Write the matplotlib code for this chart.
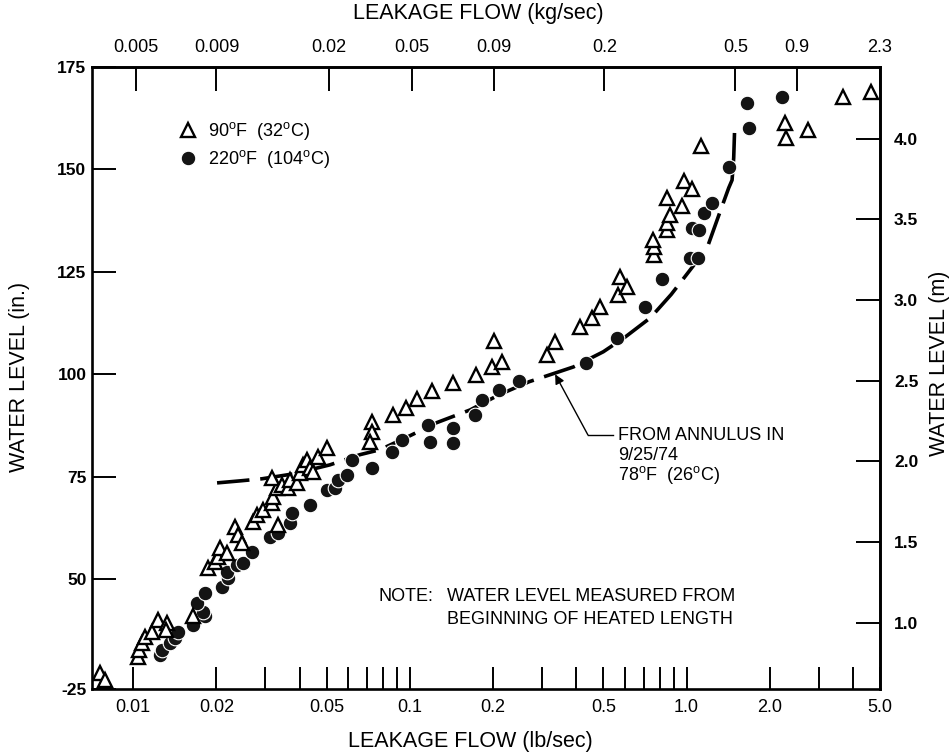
import matplotlib
matplotlib.use("Agg")
import matplotlib.pyplot as plt
from matplotlib.ticker import FixedLocator, NullLocator, NullFormatter

plt.rcParams['font.family'] = ['Liberation Sans', 'DejaVu Sans']
plt.rcParams['mathtext.fontset'] = 'custom'
plt.rcParams['mathtext.rm'] = 'Liberation Sans'

# 90 F (32 C) runs: leakage flow (lb/sec) vs. water level (in.)
flow_90f = [0.0076, 0.0079, 0.0104, 0.0105, 0.0108, 0.0110, 0.0117, 0.0123, 0.0133,
            0.0131, 0.0165, 0.0187, 0.0198, 0.0203, 0.0206, 0.0219, 0.0234, 0.0240,
            0.0247, 0.0271, 0.0281, 0.0295, 0.0318, 0.0334, 0.0320, 0.0331, 0.0318,
            0.0345, 0.0363, 0.0369, 0.0391, 0.0401, 0.0411, 0.0425, 0.0436, 0.0447,
            0.0466, 0.0502, 0.0730, 0.0730, 0.0720, 0.0870, 0.0969, 0.106, 0.120,
            0.143, 0.174, 0.198, 0.215, 0.201, 0.313, 0.335, 0.412, 0.455, 0.487,
            0.565, 0.575, 0.609, 0.762, 0.762, 0.755, 0.849, 0.849, 0.870, 0.849,
            0.962, 0.978, 1.046, 1.127, 2.27, 2.28, 2.75, 3.67, 4.64]
level_90f = [27.0, 25.5, 30.9, 32.8, 34.5, 36.0, 37.0, 40.1, 39.4,
             37.7, 40.9, 52.8, 54.3, 55.5, 57.7, 56.5, 62.8, 60.9,
             58.9, 64.0, 65.7, 67.0, 68.7, 63.3, 70.1, 72.3, 74.8,
             73.0, 72.3, 74.3, 73.5, 76.0, 77.9, 79.1, 77.2, 76.2,
             79.9, 82.1, 88.4, 86.0, 83.5, 90.1, 91.8, 94.0, 96.0,
             97.9, 99.9, 101.8, 103.0, 108.2, 104.8, 107.9, 111.6, 113.8, 116.5,
             119.4, 123.8, 121.3, 129.1, 131.1, 132.8, 135.2, 137.0, 138.9, 143.0,
             141.1, 147.2, 145.2, 155.7, 161.3, 157.7, 159.6, 167.7, 168.9]

# 220 F (104 C) runs
flow_220f = [0.0125, 0.0127, 0.0136, 0.0142, 0.0145, 0.0165, 0.0182, 0.0179, 0.0170,
             0.0182, 0.0210, 0.0220, 0.0219, 0.0238, 0.0250, 0.0269, 0.0313, 0.0334,
             0.0369, 0.0375, 0.0436, 0.0502, 0.0537, 0.0550, 0.0593, 0.0618, 0.0730,
             0.0863, 0.0937, 0.116, 0.118, 0.143, 0.143, 0.172, 0.182, 0.210, 0.248,
             0.433, 0.561, 0.707, 0.815, 1.029, 1.10, 1.046, 1.109, 1.156, 1.236,
             1.423, 1.68, 1.653, 2.21]
level_220f = [31.6, 32.8, 34.5, 35.7, 37.2, 38.9, 40.9, 42.1, 44.3,
              46.7, 48.2, 50.4, 51.8, 53.5, 54.0, 56.7, 60.4, 61.3,
              63.8, 66.2, 68.2, 71.8, 72.3, 74.3, 75.5, 79.1, 77.2,
              81.1, 84.0, 87.7, 83.5, 87.0, 83.3, 90.1, 93.8, 96.2, 98.4,
              102.8, 108.9, 116.5, 123.3, 128.4, 128.4, 135.7, 135.2, 139.4, 141.8,
              150.6, 160.1, 166.2, 167.7]

# Annulus test of 9/25/74, 78 F (26 C)
annulus_flow = [0.0201, 0.0244, 0.0292, 0.0379, 0.0514, 0.0661, 0.078, 0.10, 0.125,
                0.165, 0.21, 0.27, 0.39, 0.50, 0.60, 0.74, 0.88, 1.05, 1.19, 1.32,
                1.42, 1.46, 1.48, 1.49]
annulus_level = [73.5, 74.0, 74.5, 75.7, 77.9, 80.4, 81.6, 85.0, 88.2,
                 91.3, 95.0, 98.2, 101.8, 105.5, 109.1, 113.8, 119.5, 126.2, 131.1, 139.6,
                 145.5, 147.4, 152.8, 158.9]

# Axis ticks
flow_ticks = [0.01, 0.02, 0.05, 0.1, 0.2, 0.5, 1.0, 2.0, 5.0]
flow_tick_labels = ['0.01', '0.02', '0.05', '0.1', '0.2', '0.5', '1.0', '2.0', '5.0']
flow_minor_ticks = [0.03, 0.04, 0.06, 0.07, 0.08, 0.09, 0.3, 0.4, 0.6, 0.7, 0.8, 0.9, 3.0, 4.0]
kg_tick_positions_lb = [0.0102, 0.02, 0.051, 0.102, 0.202, 0.505, 1.5, 2.5, 5.0]
kg_tick_labels = ['0.005', '0.009', '0.02', '0.05', '0.09', '0.2', '0.5', '0.9', '2.3']
level_ticks = [23.2, 50, 75, 100, 125, 150, 175]
level_tick_labels = ['-25', '50', '75', '100', '125', '150', '175']
metre_ticks = [1.0, 1.5, 2.0, 2.5, 3.0, 3.5, 4.0]
metre_tick_labels = ['1.0', '1.5', '2.0', '2.5', '3.0', '3.5', '4.0']

IN_TO_M = 0.0254

fig = plt.figure(figsize=(9.51, 7.55), dpi=100)
ax = fig.add_axes([92 / 951, 66 / 755, 788 / 951, 622 / 755])
ax.set_xscale('log')
ax.set_xlim(0.0071, 5.0)
ax.set_ylim(23.2, 175)

for sp in ax.spines.values():
    sp.set_linewidth(1.9)

# data
ax.plot(flow_220f, level_220f, linestyle='none', marker='o', markersize=10.5,
        markerfacecolor='#141414', markeredgecolor='white', markeredgewidth=0.8,
        label=r'220$^{\mathregular{o}}$F  (104$^{\mathregular{o}}$C)', zorder=3)
ax.plot(flow_90f, level_90f, linestyle='none', marker='^', markersize=9.5,
        markerfacecolor='white', markeredgecolor='black', markeredgewidth=1.7,
        label=r'90$^{\mathregular{o}}$F  (32$^{\mathregular{o}}$C)', zorder=4)
ax.plot(annulus_flow, annulus_level, color='black', linewidth=2.6,
        dashes=(9, 3), solid_capstyle='butt', zorder=2)

# bottom axis
ax.xaxis.set_major_locator(FixedLocator(flow_ticks))
ax.set_xticklabels(flow_tick_labels)
ax.xaxis.set_minor_locator(FixedLocator(flow_minor_ticks))
ax.xaxis.set_minor_formatter(NullFormatter())
ax.tick_params(axis='x', which='both', direction='in', length=16, width=1.4,
               labelsize=13, pad=7, top=False)

# left axis
ax.set_yticks(level_ticks)
ax.set_yticklabels(level_tick_labels, fontweight='bold')
ax.tick_params(axis='y', which='both', direction='in', length=17, width=1.4,
               labelsize=12.5, pad=4, right=False)

# top axis (kg/sec)
top = ax.secondary_xaxis('top')
top.set_xticks(kg_tick_positions_lb)
top.set_xticklabels(kg_tick_labels)
top.xaxis.set_minor_locator(NullLocator())
top.tick_params(axis='x', which='both', direction='in', length=17, width=1.4,
                labelsize=13, pad=8)
top.spines['top'].set_linewidth(1.9)

# right axis (m)
right = ax.secondary_yaxis('right', functions=(lambda v: v * IN_TO_M, lambda v: v / IN_TO_M))
right.set_yticks(metre_ticks)
right.set_yticklabels(metre_tick_labels, fontweight='bold')
right.yaxis.set_minor_locator(NullLocator())
right.tick_params(axis='y', which='both', direction='in', length=17, width=1.4,
                  labelsize=12.5, pad=10)
right.spines['right'].set_linewidth(1.9)

# axis titles
fig.text(470 / 951, 14 / 755, 'LEAKAGE FLOW (lb/sec)', ha='center', va='center', fontsize=15.5)
fig.text(478 / 951, 1 - 13 / 755, 'LEAKAGE FLOW (kg/sec)', ha='center', va='center', fontsize=15.5)
fig.text(20 / 951, 1 - 377 / 755, 'WATER LEVEL (in.)', rotation=90, ha='center', va='center',
         fontsize=15.5)
fig.text(940 / 951, 1 - 363 / 755, 'WATER LEVEL (m)', rotation=90, ha='center', va='center',
         fontsize=15.5)

# legend
ax.legend(loc='upper left', bbox_to_anchor=(0.111, 0.915), frameon=False,
          handlelength=1.0, handletextpad=0.6, labelspacing=0.35, fontsize=13,
          borderaxespad=0, borderpad=0, reverse=True)

# note
ax.text(0.363, 0.148, 'NOTE:', transform=ax.transAxes, ha='left', va='center', fontsize=13)
ax.text(0.4505, 0.148, 'WATER LEVEL MEASURED FROM', transform=ax.transAxes,
        ha='left', va='center', fontsize=13)
ax.text(0.4505, 0.111, 'BEGINNING OF HEATED LENGTH', transform=ax.transAxes,
        ha='left', va='center', fontsize=13)

# annulus callout
ax.annotate('', xy=(0.335, 100.0), xytext=(0.440, 85.2),
            arrowprops=dict(arrowstyle='-|>', color='black', lw=1.0,
                            mutation_scale=14, shrinkA=0, shrinkB=0))
ax.plot([0.440, 0.542], [85.2, 85.2], color='black', lw=1.0)
ax.text(0.6675, 0.408, 'FROM ANNULUS IN', transform=ax.transAxes, ha='left', va='center',
        fontsize=13)
ax.text(0.6675, 0.376, '9/25/74', transform=ax.transAxes, ha='left', va='center', fontsize=13)
ax.text(0.6675, 0.344, r'78$^{\mathregular{o}}$F  (26$^{\mathregular{o}}$C)',
        transform=ax.transAxes, ha='left', va='center', fontsize=13)

fig.savefig('out.png', dpi=100)
